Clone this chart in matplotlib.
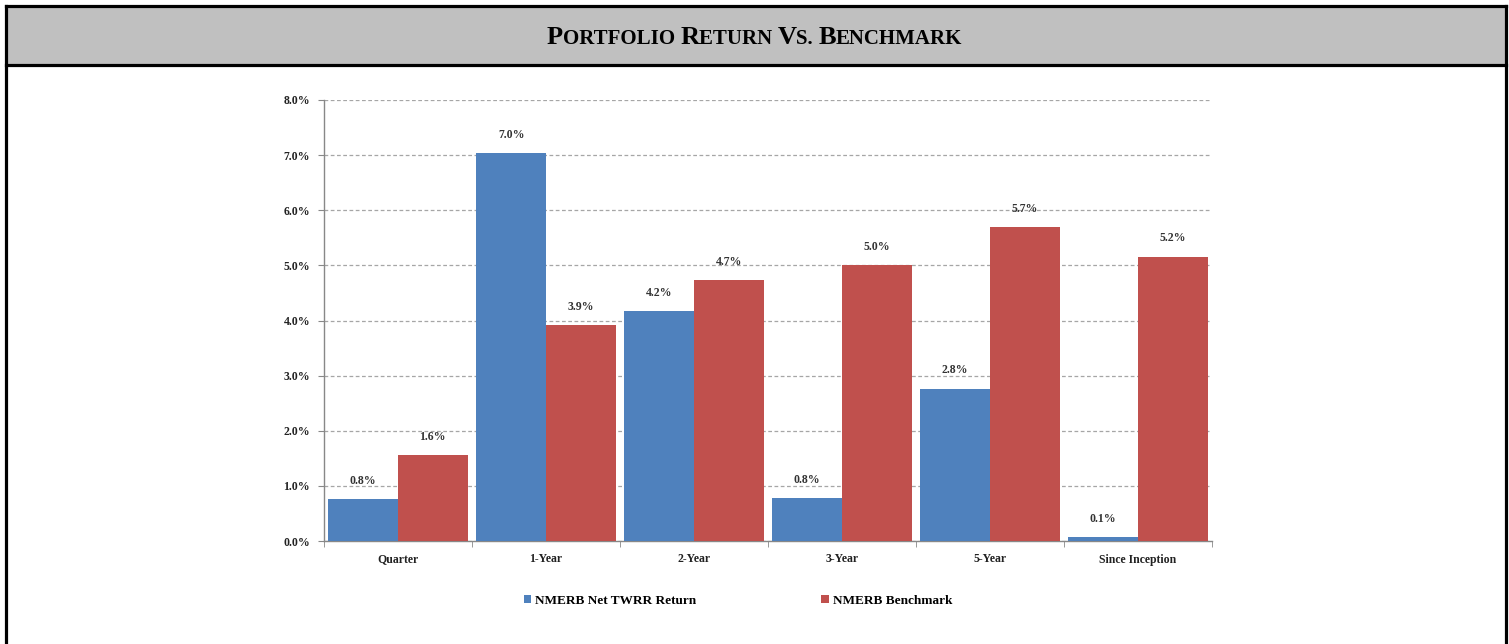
import numpy as np
import matplotlib
matplotlib.use("Agg")
import matplotlib.pyplot as plt
from matplotlib.patches import Rectangle
from matplotlib.ticker import FuncFormatter

# data
categories = ["Quarter", "1-Year", "2-Year", "3-Year", "5-Year", "Since Inception"]
portfolio = [0.76, 7.03, 4.17, 0.78, 2.76, 0.07]
benchmark = [1.56, 3.91, 4.73, 5.00, 5.69, 5.16]
series_names = ["NMERB Net TWRR Return", "NMERB Benchmark"]
title_parts = [("P", True), ("ORTFOLIO ", False), ("R", True), ("ETURN ", False),
               ("V", True), ("S. ", False), ("B", True), ("ENCHMARK", False)]

blue = "#4F81BD"
red = "#C0504D"
serif = "Liberation Serif"

fig = plt.figure(figsize=(15.09, 6.44), dpi=100)
W, H = 1509, 644

def fy(ypix):
    return 1 - ypix / H

def fx(xpix):
    return xpix / W

# header band and frame (no bottom edge)
fig.patches.append(Rectangle((fx(6), fy(64.5)), fx(1506) - fx(6), fy(6) - fy(64.5),
                             transform=fig.transFigure, facecolor="#C0C0C0",
                             edgecolor="none", zorder=0))
for xs_, ys_ in (([6, 1506], [6, 6]), ([6, 1506], [64.5, 64.5]),
                 ([6, 6], [6, 644]), ([1506, 1506], [6, 644])):
    fig.add_artist(plt.Line2D([fx(v) for v in xs_], [fy(v) for v in ys_], color="black",
                              lw=2.3, transform=fig.transFigure, solid_capstyle="projecting"))

# small-caps title built from pieces
title_texts = []
for txt, big in title_parts:
    t = fig.text(0, fy(43.5), txt, fontsize=19 if big else 15, fontweight="bold",
                 family=serif, va="baseline", ha="left")
    title_texts.append(t)
fig.canvas.draw()
r = fig.canvas.get_renderer()
widths = [t.get_window_extent(r).width for t in title_texts]
x = (W - sum(widths)) / 2
for t, w in zip(title_texts, widths):
    t.set_x(x / W)
    x += w

# main chart
ax = fig.add_axes([fx(324), fy(541), 888 / W, (541 - 100) / H])
xs = np.arange(len(categories))
bw = 0.47
ax.bar(xs - bw / 2, portfolio, bw, color=blue, label=series_names[0], zorder=3)
ax.bar(xs + bw / 2, benchmark, bw, color=red, label=series_names[1], zorder=3)

for i in range(len(categories)):
    for dx, v in ((-bw / 2, portfolio[i]), (bw / 2, benchmark[i])):
        ax.annotate(f"{v:.1f}%", (xs[i] + dx, v), xytext=(0, 9), textcoords="offset points",
                    ha="center", va="bottom", fontsize=8.5, fontweight="bold",
                    family=serif, color="#333333", zorder=4)

ax.set_xlim(-0.5, len(categories) - 0.5)
ax.set_ylim(0, 8)
ax.set_yticks(np.arange(0, 9, 1))
ax.yaxis.set_major_formatter(FuncFormatter(lambda v, p: f"{v:.1f}%"))
ax.yaxis.grid(True, linestyle=(0, (3, 2)), color="#A6A6A6", lw=0.9, zorder=0)
ax.set_axisbelow(True)

ax.set_xticks(xs)
ax.set_xticklabels(categories)
ax.set_xticks(np.arange(-0.5, len(categories)), minor=True)
ax.tick_params(axis="x", which="major", length=0, pad=9)
ax.tick_params(axis="x", which="minor", length=4, color="#888888")
ax.tick_params(axis="y", length=4, color="#888888", pad=6)
for lab in ax.get_xticklabels() + ax.get_yticklabels():
    lab.set_family(serif)
    lab.set_fontweight("bold")
    lab.set_fontsize(8.5)
    lab.set_color("#222222")

for s in ("top", "right"):
    ax.spines[s].set_visible(False)
for s in ("left", "bottom"):
    ax.spines[s].set_color("#888888")
    ax.spines[s].set_linewidth(1)

leg = fig.legend(loc="center", bbox_to_anchor=(fx(738), fy(601)), ncol=2, frameon=False,
                 prop={"family": serif, "weight": "bold", "size": 9.5},
                 handlelength=0.55, handleheight=0.55, handletextpad=0.3, columnspacing=9.5)

fig.savefig("out.png", dpi=100)
